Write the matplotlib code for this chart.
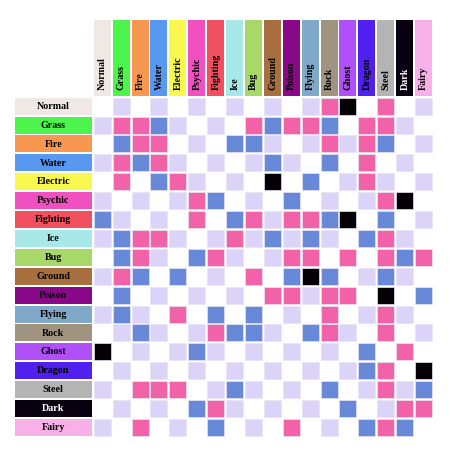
import matplotlib.pyplot as plt
from matplotlib.patches import Rectangle

TYPES = ["Normal", "Grass", "Fire", "Water", "Electric", "Psychic", "Fighting",
         "Ice", "Bug", "Ground", "Poison", "Flying", "Rock", "Ghost", "Dragon",
         "Steel", "Dark", "Fairy"]
TYPE_COLORS = ["#f0e8e4", "#4cf44c", "#f89850", "#5898f0", "#f8f850", "#f050c0",
               "#f05060", "#a8e8e8", "#a8d868", "#a87040", "#880888", "#80a8c8",
               "#a09480", "#b050f8", "#5020f0", "#b4b4b4", "#080010", "#f8b0e8"]

# 1 = pink, 2 = blue, 3 = black; anything missing is neutral
CHART = {
    "Normal":   {"Rock": 1, "Ghost": 3, "Steel": 1},
    "Grass":    {"Grass": 1, "Fire": 1, "Water": 2, "Bug": 1, "Ground": 2, "Poison": 1,
                 "Flying": 1, "Rock": 2, "Dragon": 1, "Steel": 1},
    "Fire":     {"Grass": 2, "Fire": 1, "Water": 1, "Ice": 2, "Bug": 2, "Rock": 1,
                 "Dragon": 1, "Steel": 2},
    "Water":    {"Grass": 1, "Fire": 2, "Water": 1, "Ground": 2, "Rock": 2, "Dragon": 1},
    "Electric": {"Grass": 1, "Water": 2, "Electric": 1, "Ground": 3, "Flying": 2, "Dragon": 1},
    "Psychic":  {"Psychic": 1, "Fighting": 2, "Poison": 2, "Steel": 1, "Dark": 3},
    "Fighting": {"Normal": 2, "Psychic": 1, "Ice": 2, "Bug": 1, "Poison": 1, "Flying": 1,
                 "Rock": 2, "Ghost": 3, "Steel": 2},
    "Ice":      {"Grass": 2, "Fire": 1, "Water": 1, "Ice": 1, "Ground": 2, "Flying": 2,
                 "Dragon": 2, "Steel": 1},
    "Bug":      {"Grass": 2, "Fire": 1, "Psychic": 2, "Fighting": 1, "Poison": 1,
                 "Flying": 1, "Ghost": 1, "Steel": 1, "Dark": 2, "Fairy": 1},
    "Ground":   {"Grass": 1, "Fire": 2, "Electric": 2, "Bug": 1, "Poison": 2, "Flying": 3,
                 "Rock": 2, "Steel": 2},
    "Poison":   {"Grass": 2, "Ground": 1, "Poison": 1, "Rock": 1, "Ghost": 1, "Steel": 3,
                 "Fairy": 2},
    "Flying":   {"Grass": 2, "Electric": 1, "Fighting": 2, "Bug": 2, "Rock": 1, "Steel": 1},
    "Rock":     {"Fire": 2, "Fighting": 1, "Ice": 2, "Bug": 2, "Flying": 2, "Rock": 1,
                 "Steel": 1},
    "Ghost":    {"Normal": 3, "Psychic": 2, "Dragon": 2, "Dark": 1},
    "Dragon":   {"Dragon": 2, "Steel": 1, "Fairy": 3},
    "Steel":    {"Fire": 1, "Water": 1, "Electric": 1, "Ice": 2, "Rock": 2, "Steel": 1,
                 "Fairy": 2},
    "Dark":     {"Psychic": 2, "Fighting": 1, "Ghost": 2, "Dark": 1, "Fairy": 1},
    "Fairy":    {"Fire": 1, "Fighting": 2, "Poison": 1, "Dragon": 2, "Steel": 1, "Dark": 2},
}

PINK, BLUE, BLACK, LAV = "#f262a8", "#6888d8", "#050005", "#dcd4f8"
CELL = {1: PINK, 2: BLUE, 3: BLACK}
FONT = dict(family="Liberation Serif", weight="bold", fontsize=7.2)

fig = plt.figure(figsize=(4.54, 4.54), dpi=100)
ax = fig.add_axes([0, 0, 1, 1])
ax.set_xlim(-4.92, 19.1)
ax.set_ylim(18.9, -5.13)
ax.axis("off")

n = len(TYPES)
for r, atk in enumerate(TYPES):
    for c, dfn in enumerate(TYPES):
        v = CHART[atk].get(dfn, 0)
        if v:
            col = CELL[v]
        elif (r + c) % 2:
            col = LAV
        else:
            continue
        ax.add_patch(Rectangle((c + 0.04, r + 0.04), 0.9, 0.9, facecolor=col,
                               edgecolor="#e8e4f4", lw=0.5))

for i, (t, col) in enumerate(zip(TYPES, TYPE_COLORS)):
    txt = "white" if t == "Dark" else "black"
    # row label
    ax.add_patch(Rectangle((-4.12, i + 0.04), 4.05, 0.9, facecolor=col, lw=0))
    ax.text(-2.1, i + 0.5, t, ha="center", va="center", color=txt, **FONT)
    # column header
    ax.add_patch(Rectangle((i + 0.04, -4.08), 0.9, 4.03, facecolor=col, lw=0))
    ax.text(i + 0.5, -0.35, t, ha="center", va="bottom", rotation=90, color=txt, **FONT)

fig.savefig("out.png", dpi=100)
